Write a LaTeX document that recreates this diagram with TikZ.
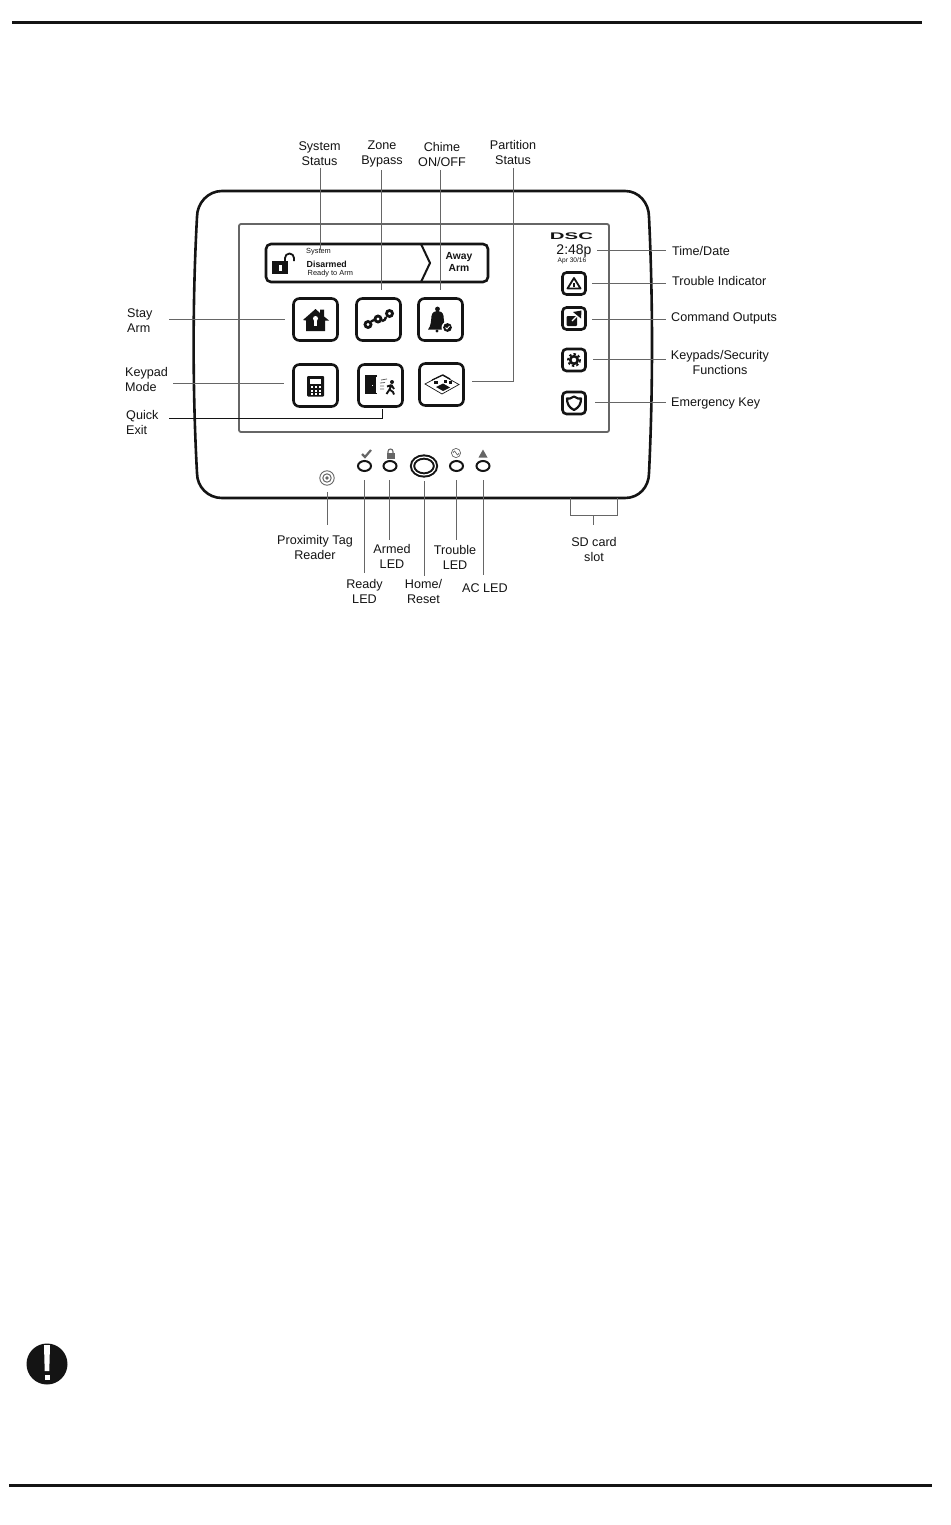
\documentclass[tikz,border=0pt]{standalone}
\usepackage{fontspec}
\setmainfont{Liberation Sans}
\usetikzlibrary{shapes.geometric}
\definecolor{leader}{gray}{0.4}
\definecolor{ink}{gray}{0.08}
\tikzset{
 lbl/.style={font=\fontsize{12.6}{15}\selectfont,text=ink,align=center,inner sep=0pt},
 ld/.style={draw=leader,line width=0.9pt},
 btn/.style={draw=ink,line width=2.6pt,rounded corners=6pt,fill=white},
 led/.style={ellipse,draw=ink,line width=2pt,minimum width=13pt,minimum height=10pt,inner sep=0pt},
 tiny/.style={font=\fontsize{7.4}{9}\selectfont,text=ink,inner sep=0pt,anchor=west},
 ic/.style={fill=ink,draw=none}
}
\begin{document}
\begin{tikzpicture}[x=1pt,y=-1pt]
\useasboundingbox (0,0) rectangle (950,1525);
\fill[white] (0,0) rectangle (950,1525);
% page rules
\coordinate (tl) at (12,23); \coordinate (tr) at (922,23);
\coordinate (bl) at (9,1485); \coordinate (br) at (932,1485);
\draw[line width=3pt,ink] (tl) -- (tr);
\draw[line width=3pt,ink] (bl) -- (br);
% device
\draw[line width=2.6pt,ink,fill=white] (222,191) -- (625,191) .. controls (639,191) and (649,203) .. (649,217)
  .. controls (653,300) and (653,390) .. (649,473) .. controls (649,487) and (639,498) .. (625,498)
  -- (222,498) .. controls (208,498) and (197,487) .. (197,473)
  .. controls (192.5,390) and (192.5,300) .. (197,217) .. controls (197,203) and (208,191) .. (222,191) -- cycle;
\draw[line width=1.8pt,draw=leader,rounded corners=2pt] (239,224) rectangle (609,432);
% status bar
\node[btn,minimum width=222pt,minimum height=38pt,anchor=center,rounded corners=5pt] (bar) at (377,263) {};
\draw[line width=2pt,ink] (421,244) -- (430,263) -- (421,282);
\node[tiny] (sys) at (306,252) {System};
\node[tiny,font=\fontsize{8.8}{10}\selectfont\bfseries] (dis) at (306.5,264) {Disarmed};
\node[tiny] (rdy) at (307.5,274) {Ready to Arm};
\node[lbl,font=\fontsize{10.3}{12}\selectfont\bfseries] (away) at (459,262) {Away\\Arm};
% unlocked padlock
\fill[ink] (272,261) rectangle (288,274);
\draw[ink,line width=1.8pt] (285,261) -- (285,258) arc[start angle=180,end angle=360,x radius=4.5,y radius=4.5] -- (294,261);
\fill[white] (279,265) rectangle (281.5,271);
% buttons
\node[btn,minimum width=44pt,minimum height=42pt] (bhouse) at (315.5,319.5) {};
\node[btn,minimum width=44pt,minimum height=42pt] (bzone) at (378.5,319.5) {};
\node[btn,minimum width=44pt,minimum height=42pt] (bchime) at (440.5,319.5) {};
\node[btn,minimum width=44pt,minimum height=42pt] (bkey) at (315.5,385.5) {};
\node[btn,minimum width=44pt,minimum height=42pt] (bexit) at (380.5,385.5) {};
\node[btn,minimum width=44pt,minimum height=42pt] (bpart) at (441.5,384.5) {};
\node[btn,minimum width=23pt,minimum height=22pt,rounded corners=4pt] (btrb) at (574,283.5) {};
\node[btn,minimum width=23pt,minimum height=22pt,rounded corners=4pt] (bcmd) at (574,318.5) {};
\node[btn,minimum width=23pt,minimum height=22pt,rounded corners=4pt] (bgear) at (574,360) {};
\node[btn,minimum width=23pt,minimum height=22pt,rounded corners=4pt] (bshld) at (574,403) {};
% house icon
\fill[ink] (303,320) -- (315.5,309) -- (320,313) -- (320,309.5) -- (324,309.5) -- (324,316.5) -- (329,320.5) -- (325,320.5) -- (325,331) -- (306,331) -- (306,320.5) -- cycle;
\fill[white] (315.5,318.5) circle (2.5);
\fill[white] (314.3,319) rectangle (316.7,326);
% zone icon
\draw[ink,line width=2.8pt] (368,324.5) circle (3);
\draw[ink,line width=2.8pt] (378,319) circle (3);
\draw[ink,line width=2.8pt] (389.5,313.5) circle (3);
\draw[ink,line width=2.4pt] (371,321.5) -- (374,320) (382,321) .. controls (384,321) and (386,319) .. (386,317);
% bell
\fill[ink] (437.5,309) circle (2.4);
\fill[ink] (428,329.5) .. controls (431,326) and (431,321) .. (431.5,316) .. controls (432.5,309) and (442.5,309) .. (443.5,316) .. controls (444,321) and (444,326) .. (447,329.5) -- cycle;
\fill[ink] (437,331) circle (1.6);
\fill[white] (447.5,327.5) circle (6);
\fill[ink] (447.5,327.5) circle (4.4);
\draw[white,line width=0.8pt] (445.5,327.5) -- (447,329) -- (449.5,326);
% calculator
\fill[ink,rounded corners=1pt] (307,376) rectangle (324,396.5);
\fill[white] (310,379) rectangle (321,384);
\foreach \a in {310.5,314.5,318.5}{\foreach \b in {386,389.5,393}{\fill[white] (\a,\b) rectangle +(2.2,2);}}
% exit icon
\fill[ink] (365,375) rectangle (377,394);
\fill[white] (375.5,376.5) rectangle (377,393);
\fill[white] (372,385) rectangle (373,386);
\draw[leader,line width=0.8pt] (381,380) -- (387,379) (380,383) -- (385,382.5) (380,386) -- (384,386) (380,389) -- (384,389);
\fill[ink] (392,382) circle (2);
\draw[ink,line width=1.9pt] (391.5,385) -- (389.5,389.5) -- (386.5,394) (389.5,389.5) -- (393,392) -- (394,394.5) (391.5,385) -- (394,389) (391.5,385) -- (387,386.5);
% partition icon
\draw[ink,line width=0.7pt,fill=white] (425,384) -- (442,375) -- (459,384.5) -- (442,394) -- cycle;
\draw[ink,line width=1.2pt] (432,380) -- (443,375) -- (450,379);
\fill[ink] (436,387) -- (443,383.5) -- (450,387.5) -- (443,391) -- cycle;
\fill[ink] (434,381) rectangle (438,384);
\fill[ink] (444,380) rectangle (446.5,383);
\fill[ink] (449,381) rectangle (452,384);
% triangle
\draw[ink,line width=1.8pt,line join=round] (567.5,288.5) -- (574,278) -- (580.5,288.5) -- cycle;
\fill[ink] (573.3,282.5) rectangle (574.7,286.5);
% command
\fill[ink,rounded corners=1pt] (566.5,316) rectangle (577,326);
\draw[white,line width=1.3pt] (572,321) -- (581,312);
\fill[ink] (573,312) -- (581.5,310.5) -- (581,318.5) -- cycle;
% gear
\draw[ink,line width=1.8pt,dash pattern=on 2.4pt off 2.2pt] (574,360) circle (6);
\draw[ink,line width=2.6pt] (574,360) circle (3.8);
% shield
\draw[ink,line width=2.2pt,line join=round] (567,398.5) -- (570,398.5) -- (574,396.5) -- (578,398.5) -- (581,398.5) .. controls (581,404) and (579,407.5) .. (574,410) .. controls (569,407.5) and (567,404) .. (567,398.5) -- cycle;
% DSC
\node[inner sep=0pt,font=\fontsize{12}{12}\selectfont\bfseries,text=ink,xscale=1.7,yscale=0.8] (dsc) at (571.5,236) {DSC};
\node[lbl,font=\fontsize{14}{15}\selectfont] (time) at (574,251) {2:48p};
\node[lbl,font=\fontsize{6.6}{8}\selectfont] (date) at (572,260.5) {Apr 30/16};
% LEDs
\node[led] (lready) at (364.5,466) {};
\node[led] (larmed) at (390,466) {};
\node[led] (ltrb) at (456.5,466) {};
\node[led] (lac) at (483,466) {};
\node[ellipse,draw=ink,double=white,double distance=1.2pt,line width=2pt,minimum width=23pt,minimum height=18pt,inner sep=0pt] (home) at (424,466) {};
% LED icons
\draw[leader,line width=2.2pt] (362,454) -- (365,457) -- (371,450);
\fill[leader] (386.5,453) rectangle (394.5,459);
\draw[leader,line width=1.1pt] (388,453) -- (388,451.5) arc[start angle=180,end angle=360,radius=2.5] -- (393,453);
\draw[leader,line width=0.7pt] (456,453) circle (4.6);
\draw[leader,line width=0.7pt] (453,453) .. controls (454.5,450) and (455,451) .. (456,453) .. controls (457,455) and (457.5,456) .. (459,453);
\fill[leader] (478.5,457.5) -- (483,449.5) -- (487.5,457.5) -- cycle;
% prox
\draw[leader,line width=0.9pt] (327,478) circle (7.2);
\draw[leader,line width=1pt] (327,478) circle (4.2);
\fill[leader] (327,478) circle (1.8);
% warning
\fill[ink] (47,1364) circle (20.5);
\fill[white] (44,1345) -- (50,1345) -- (49.3,1371) -- (44.7,1371) -- cycle;
\fill[white] (44.5,1375) rectangle (49.5,1380);
% labels
\node[lbl] (lsys) at (319.5,154) {System\\Status};
\node[lbl] (lzone) at (382,154) {Zone\\Bypass};
\node[lbl] (lchime) at (442,154) {Chime\\ON/OFF};
\node[lbl] (lpart) at (513,152) {Partition\\Status};
\node[lbl,anchor=west] (ltime) at (672,250.5) {Time/Date};
\node[lbl,anchor=west] (ltroub) at (672,281) {Trouble Indicator};
\node[lbl,anchor=west] (lcmd) at (671,318) {Command Outputs};
\node[lbl] (lkeys) at (720,362.5) {Keypads/Security\\Functions};
\node[lbl,anchor=west] (lemer) at (671,403) {Emergency Key};
\node[lbl,align=left,anchor=west] (lstay) at (127,320.5) {Stay\\Arm};
\node[lbl,align=left,anchor=west] (lkeym) at (125,379.5) {Keypad\\Mode};
\node[lbl,align=left,anchor=west] (lquick) at (126,422.5) {Quick\\Exit};
\node[lbl] (lprox) at (315,547) {Proximity Tag\\Reader};
\node[lbl] (larm) at (392,556.5) {Armed\\LED};
\node[lbl] (ltled) at (455,557.5) {Trouble\\LED};
\node[lbl] (lrdy) at (364.5,591.5) {Ready\\LED};
\node[lbl] (lhome) at (423.5,591) {Home/\\Reset};
\node[lbl,anchor=center] (laced) at (485,588) {AC LED};
\node[lbl] (lsd) at (594,549) {SD card\\slot};
% connector end coordinates
\coordinate (e1) at (320,250); \coordinate (s1) at (320,168);
\coordinate (e2) at (381,290); \coordinate (s2) at (381,170);
\coordinate (e3) at (440,290); \coordinate (s3) at (440,170);
\coordinate (s4) at (513,168); \coordinate (c4) at (513,381); \coordinate (e4) at (472,381);
\coordinate (e5) at (597,250); \coordinate (s5) at (666,250);
\coordinate (e6) at (592,283.5); \coordinate (s6) at (666,283.5);
\coordinate (e7) at (592,319); \coordinate (s7) at (666,319);
\coordinate (e8) at (593,359.5); \coordinate (s8) at (666,359.5);
\coordinate (e9) at (595,402); \coordinate (s9) at (666,402);
\coordinate (s10) at (169,319); \coordinate (e10) at (285,319);
\coordinate (s11) at (173,383); \coordinate (e11) at (284,383);
\coordinate (s12) at (169,418); \coordinate (c12) at (382,418); \coordinate (e12) at (382,409);
\coordinate (e13) at (327,492); \coordinate (s13) at (327,525);
\coordinate (e14) at (364.5,480); \coordinate (s14) at (364.5,573);
\coordinate (e15) at (389.5,480); \coordinate (s15) at (389.5,540);
\coordinate (e16) at (424,481); \coordinate (s16) at (424,576);
\coordinate (e17) at (456.5,480); \coordinate (s17) at (456.5,540);
\coordinate (e18) at (483,480); \coordinate (s18) at (483,575);
\coordinate (b1) at (570,498); \coordinate (b2) at (570,515); \coordinate (b3) at (617,515); \coordinate (b4) at (617,498);
\coordinate (b5) at (593,515); \coordinate (b6) at (593,525);
\foreach \a/\b in {s1/e1,s2/e2,s3/e3,e5/s5,e6/s6,e7/s7,e8/s8,e9/s9,s10/e10,s11/e11,e13/s13,e14/s14,e15/s15,e16/s16,e17/s17,e18/s18,b5/b6}{\draw[ld] (\a) -- (\b);}
\draw[ld] (s4) -- (c4) -- (e4);
\draw[ink,line width=0.9pt] (s12) -- (c12) -- (e12);
\draw[ld] (b1) -- (b2) -- (b3) -- (b4);
\end{tikzpicture}
\end{document}
